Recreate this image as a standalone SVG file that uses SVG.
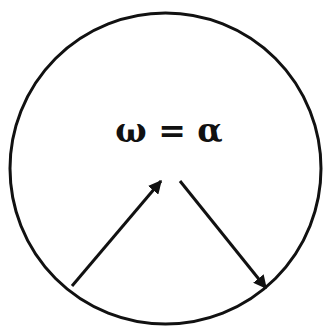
<svg xmlns="http://www.w3.org/2000/svg" width="326" height="329" viewBox="0 0 326 329">
<style>
.ln{stroke:#111;stroke-width:3;fill:none}
.lbl{font-family:"DejaVu Serif","Liberation Serif",serif;font-weight:bold;font-size:33px;fill:#111}
</style>
<defs>
<marker id="ah" viewBox="0 0 10 10" refX="9" refY="5" markerWidth="4.5" markerHeight="4.5" orient="auto" markerUnits="strokeWidth">
<path d="M0,0 L10,5 L0,10 Z" fill="#111"/>
</marker>
</defs>
<rect width="326" height="329" fill="#fff"/>
<g id="circle">
<circle cx="165.5" cy="168.5" r="155.5" class="ln"/>
</g>
<g id="label">
<text x="169" y="142" text-anchor="middle" class="lbl">ω = α</text>
</g>
<g id="connectors">
<line x1="72" y1="286" x2="161" y2="181" class="ln" marker-end="url(#ah)"/>
<line x1="180" y1="181" x2="266" y2="288" class="ln" marker-end="url(#ah)"/>
</g>
</svg>
